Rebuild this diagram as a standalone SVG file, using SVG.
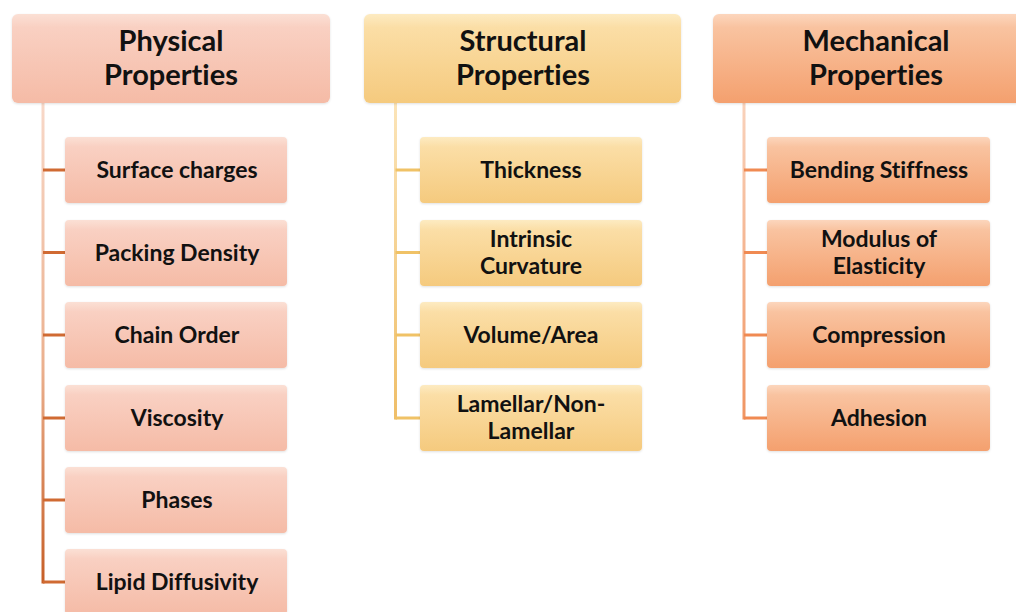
<svg xmlns="http://www.w3.org/2000/svg" width="1016" height="612" viewBox="0 0 1016 612">
<defs>
<linearGradient id="gP" x1="0" y1="0" x2="0" y2="1"><stop offset="0" stop-color="#fbe0d5"/><stop offset="0.15" stop-color="#f9d0c2"/><stop offset="1" stop-color="#f5bba6"/></linearGradient>
<linearGradient id="gS" x1="0" y1="0" x2="0" y2="1"><stop offset="0" stop-color="#fdebc2"/><stop offset="0.15" stop-color="#fbdea6"/><stop offset="1" stop-color="#f5ca7e"/></linearGradient>
<linearGradient id="gM" x1="0" y1="0" x2="0" y2="1"><stop offset="0" stop-color="#fcd6bd"/><stop offset="0.15" stop-color="#f9c3a0"/><stop offset="1" stop-color="#f4a06e"/></linearGradient>
<linearGradient id="lP" gradientUnits="userSpaceOnUse" x1="0" y1="103" x2="0" y2="584"><stop offset="0" stop-color="#f8d8c8"/><stop offset="0.55" stop-color="#ebb08e"/><stop offset="1" stop-color="#c65e26"/></linearGradient>
<linearGradient id="lS" gradientUnits="userSpaceOnUse" x1="0" y1="103" x2="0" y2="420"><stop offset="0" stop-color="#fbe4b8"/><stop offset="1" stop-color="#efbe68"/></linearGradient>
<linearGradient id="lM" gradientUnits="userSpaceOnUse" x1="0" y1="103" x2="0" y2="420"><stop offset="0" stop-color="#f9d2bb"/><stop offset="1" stop-color="#f09562"/></linearGradient>
<filter id="sh" x="-5%" y="-10%" width="110%" height="125%"><feDropShadow dx="0" dy="1" stdDeviation="1" flood-color="#000" flood-opacity="0.12"/></filter>
</defs>
<style>
text{font-family:Lato,"Open Sans","Liberation Sans",sans-serif;font-weight:bold;fill:#111;text-anchor:middle;font-variant-ligatures:none}
.h{font-size:29px}
.c{font-size:23px}
.bx{filter:url(#sh)}
</style>
<rect width="1016" height="612" fill="#ffffff"/>
<g id="connectors" fill="none" stroke-width="3">
<path stroke="url(#lP)" d="M43 103V583.5"/>
<path stroke="#d06a32" d="M43 170H65M43 252.5H65M43 335H65M43 418H65M43 500H65M43 582H65"/>
<path stroke="url(#lS)" d="M395.5 103V419.5"/>
<path stroke="#f0c266" d="M395.5 170H420M395.5 252.5H420M395.5 335H420M395.5 418H420"/>
<path stroke="url(#lM)" d="M744 103V419.5"/>
<path stroke="#f08a52" d="M744 170H767M744 252.5H767M744 335H767M744 418H767"/>
</g>
<g id="physical">
<rect class="bx" x="12" y="14" width="318" height="89" rx="6" fill="url(#gP)"/>
<text class="h" x="171" y="51">Physical</text>
<text class="h" x="171" y="85">Properties</text>
</g>
<g id="surface-charges"><rect class="bx" x="65" y="137" width="222" height="66" rx="4" fill="url(#gP)"/><text class="c" x="177" y="178">Surface charges</text></g>
<g id="packing-density"><rect class="bx" x="65" y="220" width="222" height="66" rx="4" fill="url(#gP)"/><text class="c" x="177" y="261">Packing Density</text></g>
<g id="chain-order"><rect class="bx" x="65" y="302" width="222" height="66" rx="4" fill="url(#gP)"/><text class="c" x="177" y="343">Chain Order</text></g>
<g id="viscosity"><rect class="bx" x="65" y="385" width="222" height="66" rx="4" fill="url(#gP)"/><text class="c" x="177" y="426">Viscosity</text></g>
<g id="phases"><rect class="bx" x="65" y="467" width="222" height="66" rx="4" fill="url(#gP)"/><text class="c" x="177" y="508">Phases</text></g>
<g id="lipid-diffusivity"><rect class="bx" x="65" y="549" width="222" height="66" rx="4" fill="url(#gP)"/><text class="c" x="177" y="590">Lipid Diffusivity</text></g>

<g id="structural">
<rect class="bx" x="364" y="14" width="317" height="89" rx="6" fill="url(#gS)"/>
<text class="h" x="523" y="51">Structural</text>
<text class="h" x="523" y="85">Properties</text>
</g>
<g id="thickness"><rect class="bx" x="420" y="137" width="222" height="66" rx="4" fill="url(#gS)"/><text class="c" x="531" y="178">Thickness</text></g>
<g id="intrinsic-curvature"><rect class="bx" x="420" y="220" width="222" height="66" rx="4" fill="url(#gS)"/><text class="c" x="531" y="247">Intrinsic</text><text class="c" x="531" y="274">Curvature</text></g>
<g id="volume-area"><rect class="bx" x="420" y="302" width="222" height="66" rx="4" fill="url(#gS)"/><text class="c" x="531" y="343">Volume/Area</text></g>
<g id="lamellar"><rect class="bx" x="420" y="385" width="222" height="66" rx="4" fill="url(#gS)"/><text class="c" x="531" y="412">Lamellar/Non-</text><text class="c" x="531" y="439">Lamellar</text></g>

<g id="mechanical">
<rect class="bx" x="713" y="14" width="318" height="89" rx="6" fill="url(#gM)"/>
<text class="h" x="876" y="51">Mechanical</text>
<text class="h" x="876" y="85">Properties</text>
</g>
<g id="bending-stiffness"><rect class="bx" x="767" y="137" width="223" height="66" rx="4" fill="url(#gM)"/><text class="c" x="879" y="178">Bending Stiffness</text></g>
<g id="modulus"><rect class="bx" x="767" y="220" width="223" height="66" rx="4" fill="url(#gM)"/><text class="c" x="879" y="247">Modulus of</text><text class="c" x="879" y="274">Elasticity</text></g>
<g id="compression"><rect class="bx" x="767" y="302" width="223" height="66" rx="4" fill="url(#gM)"/><text class="c" x="879" y="343">Compression</text></g>
<g id="adhesion"><rect class="bx" x="767" y="385" width="223" height="66" rx="4" fill="url(#gM)"/><text class="c" x="879" y="426">Adhesion</text></g>
</svg>
